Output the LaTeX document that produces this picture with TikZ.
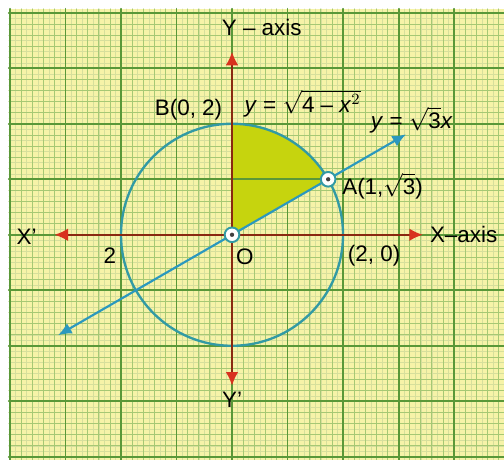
\documentclass[tikz,border=0pt]{standalone}
\usepackage{fontspec}
\setmainfont{Liberation Sans}
\usetikzlibrary{arrows.meta}
\definecolor{paper}{HTML}{F6F3A8}
\definecolor{gridmajor}{HTML}{5A9838}
\definecolor{gridminor}{HTML}{A6C874}
\definecolor{gridfine}{HTML}{D6DF9C}
\definecolor{axisred}{HTML}{8A2810}
\definecolor{tipred}{HTML}{D8321E}
\definecolor{circleteal}{HTML}{329AA4}
\definecolor{lineblue}{HTML}{2B98BE}
\definecolor{shadegreen}{HTML}{C6D40E}
\tikzset{
  dotmark/.style={circle,draw=circleteal,fill=white,line width=1pt,minimum size=7.5pt,inner sep=0pt,
    path picture={\fill[black!75] (path picture bounding box.center) circle (1.1pt);}},
  axisline/.style={axisred,line width=1.1pt,
    {Latex[color=tipred,length=7pt,width=6.5pt]}-{Latex[color=tipred,length=7pt,width=6.5pt]}},
  lbl/.style={inner sep=0pt,font=\fontsize{11.5}{13}\selectfont}
}
\begin{document}
\begin{tikzpicture}[line cap=round,line join=round]
  \useasboundingbox (-4.18,-4.04) rectangle (4.9,4.23);
  \coordinate (O) at (0,0);
  \coordinate (A) at (30:2);
  \coordinate (B) at (0,2);
  \coordinate (A0) at (0,1);
  \coordinate (Xl) at (-3.2,0);
  \coordinate (Xr) at (3.44,0);
  \coordinate (Yt) at (0,3.3);
  \coordinate (Yb) at (0,-2.72);
  \coordinate (Ll) at (210:3.62);
  \coordinate (Lr) at (30:3.62);
  \fill[paper] (-4.02,-4.1) rectangle (4.95,4.07);
  \draw[gridfine,line width=0.2pt,step=0.1] (-4.02,-4.1) grid (4.95,4.07);
  \draw[gridminor,line width=0.35pt,step=0.2] (-4.02,-4.1) grid (4.95,4.07);
  \draw[gridmajor,line width=1pt,step=1] (-4.02,-4.1) grid (4.95,4.07);
  \fill[shadegreen] (O) -- (A) arc[start angle=30,end angle=90,radius=2] -- cycle;
  \draw[gridmajor,line width=1pt] (A0) -- (A);
  \draw[circleteal,line width=1.2pt] (O) circle[radius=2];
  \draw[axisline] (Xl) -- (Xr);
  \draw[axisline] (Yb) -- (Yt);
  \draw[lineblue,line width=1.1pt,{Latex[length=7pt,width=6pt]}-{Latex[length=7pt,width=6pt]}] (Ll) -- (Lr);
  \node[dotmark] (o) at (O) {};
  \node[dotmark] (a) at (A) {};
  \node[lbl,anchor=west] (yaxis) at (-0.19,3.73) {Y -- axis};
  \node[lbl,anchor=west] (xaxis) at (3.56,0) {X--axis};
  \node[lbl] (xprime) at (-3.7,-0.04) {X’};
  \node[lbl] (yprime) at (0,-2.97) {Y’};
  \node[lbl,anchor=east] (blabel) at (-0.17,2.25) {B(0, 2)};
  \node[lbl,anchor=west] (circeq) at (0.22,2.36) {\textit{y} = $\sqrt{\mbox{4 -- \textit{x}$^2$}}$};
  \node[lbl] (lineeq) at (3.24,2.07) {\textit{y} = $\sqrt{\mbox{3}}$\textit{x}};
  \node[lbl,anchor=west] (alabel) at (1.98,0.88) {A(1,$\sqrt{\mbox{3}}$)};
  \node[lbl] (two) at (-2.2,-0.37) {2};
  \node[lbl] (olabel) at (0.23,-0.4) {O};
  \node[lbl] (xtwo) at (2.56,-0.37) {(2, 0)};
\end{tikzpicture}
\end{document}
